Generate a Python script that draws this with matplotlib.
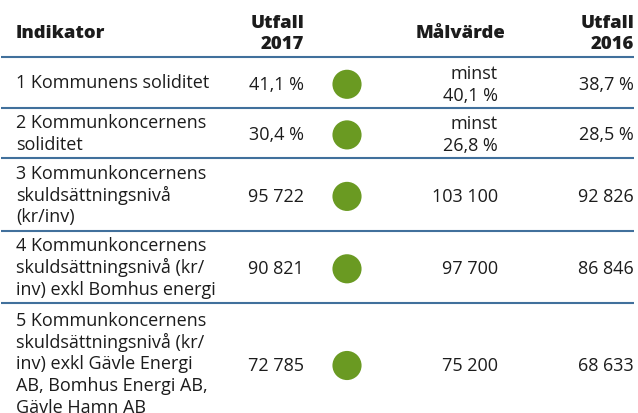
import matplotlib
matplotlib.use("Agg")
import matplotlib.pyplot as plt

# ---- data ----
headers = ["Indikator", "Utfall\n2017", "Målvärde", "Utfall\n2016"]
indicators = [
    "1 Kommunens soliditet",
    "2 Kommunkoncernens\nsoliditet",
    "3 Kommunkoncernens\nskuldsättningsnivå\n(kr/inv)",
    "4 Kommunkoncernens\nskuldsättningsnivå (kr/\ninv) exkl Bomhus energi",
    "5 Kommunkoncernens\nskuldsättningsnivå (kr/\ninv) exkl Gävle Energi\nAB, Bomhus Energi AB,\nGävle Hamn AB",
]
utfall_2017 = ["41,1 %", "30,4 %", "95 722", "90 821", "72 785"]
malvarde = ["minst\n40,1 %", "minst\n26,8 %", "103 100", "97 700", "75 200"]
utfall_2016 = ["38,7 %", "28,5 %", "92 826", "86 846", "68 633"]
status = ["green", "green", "green", "green", "green"]

# ---- style ----
W, H = 638, 414
FONT = "Open Sans"
FS = 13
FS_H = 13.3
LH = 21.8
TXT = "#1c1c1c"
RULE = "#41709c"
GREEN = "#6a9a22"

fig = plt.figure(figsize=(W / 100, H / 100), dpi=100)
ax = fig.add_axes([0, 0, 1, 1])
ax.set_xlim(0, W)
ax.set_ylim(H, 0)
ax.axis("off")

x_ind = 16
x_u17 = 304
x_dot = 347
x_mal = 498
x_u16 = 634


def draw_lines(s, x, yc, ha, weight="normal", fs=FS):
    lines = s.split("\n")
    n = len(lines)
    for i, ln in enumerate(lines):
        y = yc + (i - (n - 1) / 2) * LH
        ax.text(x, y, ln, ha=ha, va="center", fontsize=fs, family=FONT,
                weight=weight, color=TXT)


def rule(y):
    ax.plot([1, 634], [y, y], color=RULE, lw=1.5, solid_capstyle="butt")


# header
hy = 34
draw_lines(headers[0], x_ind, hy, "left", 800, FS_H)
draw_lines(headers[1], x_u17, hy, "right", 800, FS_H)
draw_lines(headers[2], x_mal + 7, hy, "right", 800, FS_H)
draw_lines(headers[3], x_u16, hy, "right", 800, FS_H)

top = 58
rule(top)
for ind, u17, mal, u16, st in zip(indicators, utfall_2017, malvarde,
                                  utfall_2016, status):
    n = max(len(ind.split("\n")), len(mal.split("\n")))
    pad = 7 if n < 5 else 12
    h = n * LH + pad
    yc = top + h / 2
    draw_lines(ind, x_ind, yc, "left")
    draw_lines(u17, x_u17, yc + 1.5, "right")
    draw_lines(mal, x_mal, yc + 1.5, "right")
    draw_lines(u16, x_u16, yc + 1.5, "right")
    ax.scatter([x_dot], [yc + 2], s=440, color=GREEN if st == "green" else st,
               edgecolors="none", zorder=3)
    top += h
    if top < H:
        rule(top)

fig.savefig("out.png", dpi=100)
